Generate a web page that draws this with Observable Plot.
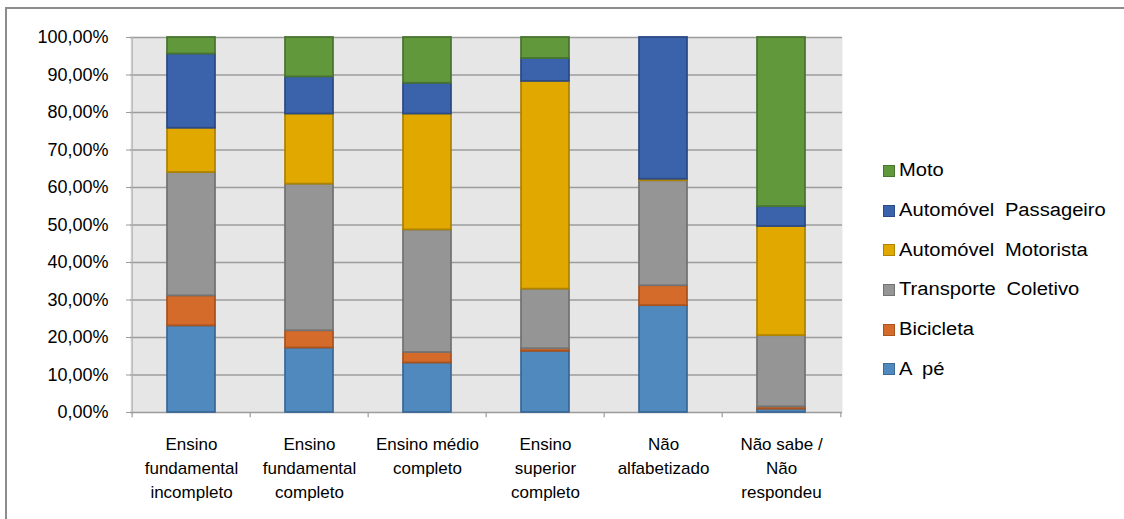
<!DOCTYPE html>
<html>
<head>
<meta charset="utf-8">
<script src="https://cdn.jsdelivr.net/npm/d3@7"></script>
<script src="https://cdn.jsdelivr.net/npm/@observablehq/plot@0.6"></script>
<style>
  html, body { margin: 0; padding: 0; background: #fff; overflow: hidden; }
  #wrap { position: relative; width: 1124px; height: 519px; font-family: "Liberation Sans", Arial, sans-serif; }
  #border { position: absolute; left: 5px; top: 7px; width: 1300px; height: 700px; border-left: 2px solid #8c8c8c; border-top: 2px solid #8c8c8c; }
  #chart { position: absolute; left: 0; top: 0; }
  #legend { position: absolute; left: 883px; top: 151px; }
  .item { display: flex; align-items: center; height: 39.7px; font-size: 18px; color: #000; }
  .sw { width: 10px; height: 10px; margin-right: 4px; border: 1px solid; flex: none; }
  .lt { display: inline-block; white-space: nowrap; transform: scaleX(1.12); transform-origin: left center; word-spacing: 4.5px; }
</style>
</head>
<body>
<div id="wrap">
  <div id="border"></div>
  <div id="chart"></div>
  <div id="legend"></div>
</div>
<script>
const categories = [
  "Ensino\nfundamental\nincompleto",
  "Ensino\nfundamental\ncompleto",
  "Ensino médio\ncompleto",
  "Ensino\nsuperior\ncompleto",
  "Não\nalfabetizado",
  "Não sabe /\nNão\nrespondeu"
];
const modes = ["A pé", "Bicicleta", "Transporte Coletivo", "Automóvel Motorista", "Automóvel Passageiro", "Moto"];
const aPe        = [23.1, 17.2, 13.2, 16.3, 28.5, 0.9];
const bicicleta  = [8.0, 4.6, 2.8, 0.7, 5.3, 0.6];
const transporte = [32.9, 39.1, 32.7, 15.9, 28.0, 19.0];
const autoMot    = [11.8, 18.7, 30.9, 55.4, 0.4, 29.1];
const autoPas    = [19.8, 9.9, 8.2, 6.1, 37.8, 5.3];
const moto       = [4.4, 10.5, 12.2, 5.6, 0.0, 45.1];
const yTicks = [0, 10, 20, 30, 40, 50, 60, 70, 80, 90, 100];

const fills   = {"A pé": "#4f89bd", "Bicicleta": "#d46b2a", "Transporte Coletivo": "#959595", "Automóvel Motorista": "#e1a900", "Automóvel Passageiro": "#3b63ab", "Moto": "#62983c"};
const strokes = {"A pé": "#3b6a98", "Bicicleta": "#a9531f", "Transporte Coletivo": "#737373", "Automóvel Motorista": "#ae8300", "Automóvel Passageiro": "#2b4a86", "Moto": "#497530"};

const seriesValues = [aPe, bicicleta, transporte, autoMot, autoPas, moto];
const data = [];
categories.forEach((c, i) => {
  modes.forEach((m, j) => data.push({cat: c, mode: m, value: seriesValues[j][i]}));
});

const W = 1124, H = 519;
const mL = 130, mR = 282, mT = 37, mB = 107;
const band = (W - mL - mR) / categories.length;
const half = band / 2;
const barInset = (band - 48.6) / 2;

const chart = Plot.plot({
  width: W, height: H,
  marginLeft: mL, marginRight: mR, marginTop: mT, marginBottom: mB,
  style: {fontFamily: "'Liberation Sans', Arial, sans-serif", background: "transparent"},
  x: {domain: categories, padding: 0, label: null},
  y: {domain: [0, 100], label: null},
  color: {type: "identity"},
  marks: [
    Plot.frame({fill: "#e6e6e6", stroke: null}),
    Plot.ruleY(yTicks, {stroke: "#9c9c9c", strokeWidth: 1.6}),
    Plot.ruleX([categories[0]], {dx: -half, stroke: "#b0b0b0", strokeWidth: 1.2}),
    Plot.ruleX(categories, {dx: -half, y1: 0, y2: -1.4, stroke: "#9c9c9c", strokeWidth: 1.2}),
    Plot.ruleX([categories[categories.length - 1]], {dx: half, y1: 0, y2: -1.4, stroke: "#9c9c9c", strokeWidth: 1.2}),
    Plot.barY(data, Plot.stackY({
      x: "cat", y: "value",
      fill: d => fills[d.mode], stroke: d => strokes[d.mode],
      strokeWidth: 1.8, insetLeft: barInset, insetRight: barInset
    })),
    Plot.axisY({ticks: yTicks, tickSize: 4, tickPadding: 18, stroke: "#9c9c9c", fontSize: 18, fill: "#000",
      tickFormat: d => d.toFixed(2).replace(".", ",") + "%"}),
    Plot.axisX({tickSize: 0, tickPadding: 20, fontSize: 17, lineHeight: 1.42, fill: "#000", lineAnchor: "top"})
  ]
});
document.getElementById("chart").appendChild(chart);

const legend = document.getElementById("legend");
[...modes].reverse().forEach(m => {
  const row = document.createElement("div");
  row.className = "item";
  const sw = document.createElement("span");
  sw.className = "sw";
  sw.style.background = fills[m];
  sw.style.borderColor = strokes[m];
  row.appendChild(sw);
  const t = document.createElement("span");
  t.className = "lt";
  t.textContent = m;
  row.appendChild(t);
  legend.appendChild(row);
});
</script>
</body>
</html>
